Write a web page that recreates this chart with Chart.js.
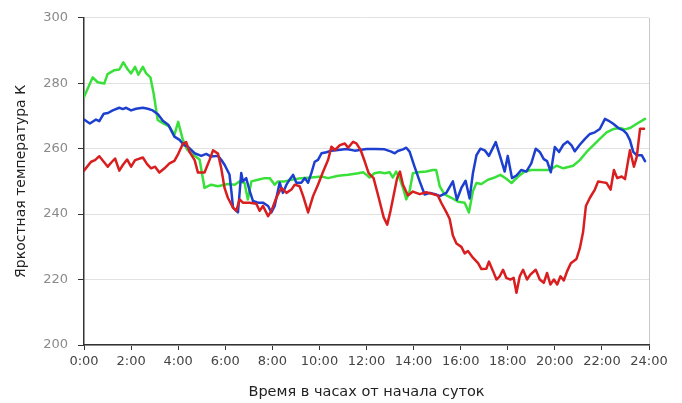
<!DOCTYPE html>
<html>
<head>
<meta charset="utf-8">
<script src="https://cdn.jsdelivr.net/npm/chart.js@4/dist/chart.umd.min.js"></script>
<style>
  body { margin: 0; background: #fff; }
  #wrap { width: 682px; height: 403px; }
</style>
</head>
<body>
<div id="wrap"><canvas id="tbChart" width="682" height="403"></canvas></div>
<script>
// время (часы от начала суток) и яркостная температура, K
const redHours = [0.0, 0.3, 0.47, 0.65, 0.84, 1.01, 1.15, 1.32, 1.5, 1.65, 1.83, 2.0, 2.17, 2.5, 2.68, 2.85, 3.02, 3.2, 3.42, 3.63, 3.84, 4.01, 4.2, 4.34, 4.48, 4.7, 4.84, 5.12, 5.33, 5.48, 5.69, 5.83, 5.97, 6.11, 6.33, 6.47, 6.61, 6.75, 7.04, 7.32, 7.46, 7.6, 7.82, 7.96, 8.17, 8.38, 8.6, 8.81, 8.95, 9.16, 9.31, 9.52, 9.73, 9.94, 10.16, 10.37, 10.51, 10.66, 10.87, 11.08, 11.22, 11.43, 11.57, 11.75, 11.93, 12.09, 12.3, 12.52, 12.73, 12.88, 13.02, 13.16, 13.3, 13.42, 13.55, 13.76, 13.97, 14.26, 14.54, 14.82, 15.03, 15.18, 15.39, 15.53, 15.67, 15.82, 16.03, 16.17, 16.31, 16.52, 16.74, 16.88, 17.09, 17.2, 17.38, 17.52, 17.66, 17.8, 17.94, 18.11, 18.25, 18.37, 18.51, 18.65, 18.82, 18.96, 19.19, 19.36, 19.53, 19.67, 19.81, 19.96, 20.1, 20.24, 20.38, 20.52, 20.68, 20.92, 21.06, 21.2, 21.32, 21.49, 21.7, 21.84, 22.06, 22.2, 22.37, 22.51, 22.65, 22.84, 22.98, 23.19, 23.36, 23.48, 23.62, 23.79];
const redTemp = [253.3, 256, 256.5, 257.7, 256, 254.5, 255.7, 257, 253.3, 255, 256.7, 254.5, 256.5, 257.3, 255.3, 254, 254.5, 252.7, 254, 255.5, 256.3, 258.5, 261.5, 262, 259, 256.5, 252.7, 252.7, 256.5, 259.5, 258.5, 254, 248, 245, 242, 241, 244.5, 243.5, 243.5, 243.2, 241, 242.5, 239.4, 241, 245, 248, 246.5, 247.5, 249, 248.5, 245.5, 240.5, 245.5, 249, 253, 256.6, 260.6, 259.6, 261.1, 261.6, 260.3, 262.1, 261.6, 259.6, 256, 252.5, 251, 245, 239, 236.8, 241, 246, 251, 253, 249, 245.7, 246.9, 246.1, 246.7, 246.1, 245.7, 243.4, 240.6, 238.6, 233.5, 231, 230, 228, 228.7, 226.7, 225, 223.2, 223.3, 225.5, 222.5, 220, 221, 223, 220.5, 220, 220.5, 216, 221, 223, 220, 221.5, 223, 220, 219, 222, 218.5, 220, 218.5, 221, 219.7, 222.5, 225, 226.3, 229.5, 234.5, 242.5, 245, 247.5, 250, 249.7, 249.5, 247.5, 253.5, 251, 251.5, 250.7, 259.5, 254.5, 257.5, 266.1, 266.1];

const blueHours = [0.0, 0.25, 0.51, 0.65, 0.84, 1.02, 1.22, 1.5, 1.65, 1.79, 2.0, 2.21, 2.5, 2.71, 2.92, 3.14, 3.35, 3.59, 3.84, 4.06, 4.24, 4.41, 4.7, 4.98, 5.19, 5.4, 5.69, 5.83, 5.97, 6.18, 6.26, 6.33, 6.47, 6.54, 6.68, 6.75, 6.89, 7.04, 7.18, 7.39, 7.6, 7.82, 7.96, 8.1, 8.31, 8.45, 8.6, 8.74, 8.88, 9.02, 9.23, 9.38, 9.52, 9.66, 9.8, 9.94, 10.09, 10.3, 10.51, 10.8, 11.15, 11.5, 12.0, 12.4, 12.77, 13.05, 13.2, 13.33, 13.55, 13.69, 13.83, 14.04, 14.26, 14.47, 14.7, 14.95, 15.11, 15.39, 15.67, 15.84, 16.03, 16.21, 16.38, 16.52, 16.67, 16.84, 17.02, 17.2, 17.49, 17.66, 17.87, 18.0, 18.18, 18.37, 18.58, 18.79, 19.0, 19.19, 19.36, 19.53, 19.67, 19.83, 20.0, 20.18, 20.36, 20.54, 20.71, 20.85, 21.06, 21.28, 21.49, 21.7, 21.91, 22.13, 22.27, 22.48, 22.7, 22.91, 23.05, 23.19, 23.33, 23.48, 23.69, 23.83];
const blueTemp = [268.9, 267.7, 268.9, 268.4, 270.7, 270.9, 271.7, 272.5, 272.1, 272.5, 271.7, 272.2, 272.5, 272.2, 271.7, 270.5, 268.5, 267.2, 263.7, 262.7, 261.1, 260.6, 258.6, 257.8, 258.4, 257.6, 257.8, 256.6, 255.1, 252.1, 247, 242, 241, 240.5, 252.6, 250, 251, 247, 244, 243.5, 243.5, 242.5, 240.5, 242.5, 249.6, 246.5, 249, 250.6, 252, 249.6, 249.6, 251, 249.6, 252.6, 256, 256.6, 258.6, 258.9, 259.4, 259.6, 259.9, 259.4, 259.9, 259.9, 259.8, 259.1, 258.6, 259.3, 259.8, 260.3, 259.1, 254.5, 250, 246, 246.5, 246, 245.5, 246.5, 250, 244.4, 248, 250.2, 244.8, 252.5, 258, 260, 259.5, 257.8, 262, 258, 253, 257.8, 251, 251.8, 253.5, 253, 255.5, 260, 259, 256.8, 256.2, 252.8, 260.5, 259, 261.2, 262.2, 261, 259.2, 261.2, 263, 264.5, 265, 266, 269.1, 268.6, 267.6, 266.3, 265.6, 264.6, 262.6, 259, 258, 258, 256.2];

const greenHours = [0.0, 0.37, 0.58, 0.86, 1.0, 1.29, 1.5, 1.67, 1.86, 2.0, 2.17, 2.31, 2.5, 2.64, 2.82, 2.96, 3.13, 3.35, 3.63, 3.84, 4.0, 4.2, 4.38, 4.62, 4.91, 5.12, 5.4, 5.69, 5.97, 6.11, 6.4, 6.61, 6.82, 6.96, 7.11, 7.39, 7.67, 7.89, 8.1, 8.24, 8.53, 8.81, 9.23, 9.66, 10.09, 10.37, 10.8, 11.22, 11.65, 11.86, 12.0, 12.13, 12.34, 12.55, 12.77, 12.98, 13.12, 13.26, 13.4, 13.55, 13.69, 13.83, 13.97, 14.18, 14.54, 14.82, 14.96, 15.11, 15.32, 15.6, 15.89, 16.17, 16.35, 16.52, 16.67, 16.88, 17.16, 17.45, 17.69, 17.94, 18.16, 18.44, 18.72, 19.0, 19.36, 19.79, 20.07, 20.36, 20.78, 21.06, 21.35, 21.63, 21.91, 22.2, 22.48, 22.77, 22.98, 23.19, 23.48, 23.83];
const greenTemp = [275.8, 281.8, 280.3, 279.9, 282.8, 284, 284.2, 286.4, 284.2, 283, 285, 282.6, 285, 283, 281.8, 276.8, 268.8, 267.8, 266.7, 264.2, 268.2, 262.7, 259.7, 258.2, 256.7, 248, 249, 248.5, 249, 249.2, 249, 250, 249.5, 244.5, 250, 250.5, 251, 251, 249, 250, 250, 250.5, 251, 251.2, 251.5, 251, 251.7, 252, 252.5, 252.8, 252, 251.2, 252.5, 252.8, 252.5, 252.8, 251.2, 253, 251, 248, 244.5, 247, 252.5, 252.8, 253, 253.5, 253.5, 248.5, 246, 245, 243.8, 243.5, 240.5, 247, 249.5, 249.2, 250.5, 251.2, 252, 250.8, 249.5, 251.5, 253, 253.5, 253.5, 253.5, 254.8, 254, 254.8, 256.5, 259, 261, 263, 265, 266, 266.3, 265.9, 266.3, 267.6, 269.1];

const yTicks = [200, 220, 240, 260, 280, 300];
const xTickHours = [0, 2, 4, 6, 8, 10, 12, 14, 16, 18, 20, 22, 24];

function toPoints(hours, temps) {
    return hours.map((h, i) => ({ x: h, y: temps[i] }));
}

const fontFamily = '"DejaVu Sans", Verdana, sans-serif';

new Chart(document.getElementById('tbChart'), {
    type: 'line',
    data: {
        datasets: [
            { label: 'red', data: toPoints(redHours, redTemp), borderColor: '#d81e1e' },
            { label: 'blue', data: toPoints(blueHours, blueTemp), borderColor: '#1c3fd0' },
            { label: 'green', data: toPoints(greenHours, greenTemp), borderColor: '#3ae03a' }
        ]
    },
    options: {
        responsive: false,
        animation: false,
        layout: { padding: { top: 15, right: 33, left: 0, bottom: 0 } },
        elements: {
            point: { radius: 0 },
            line: { borderWidth: 2.5, tension: 0, borderJoinStyle: 'round', borderCapStyle: 'round' }
        },
        plugins: {
            legend: { display: false },
            tooltip: { enabled: false }
        },
        scales: {
            x: {
                type: 'linear',
                min: 0,
                max: 24,
                afterBuildTicks: s => { s.ticks = xTickHours.map(v => ({ value: v })); },
                afterFit: s => { s.height = 58; },
                ticks: {
                    callback: v => v + ':00',
                    color: '#444',
                    font: { family: fontFamily, size: 13 },
                    padding: 4,
                    maxRotation: 0,
                    autoSkip: false
                },
                grid: {
                    color: c => (c.tick && c.tick.value === 24 ? '#c8c8c8' : 'rgba(0,0,0,0)'),
                    tickColor: '#333',
                    tickLength: 5
                },
                border: { color: '#333', width: 1.5 },
                title: {
                    display: true,
                    text: 'Время в часах от начала суток',
                    color: '#222',
                    font: { family: fontFamily, size: 14.5 },
                    padding: { top: 0, bottom: 2 }
                }
            },
            y: {
                min: 200,
                max: 300,
                afterBuildTicks: s => { s.ticks = yTicks.map(v => ({ value: v })); },
                afterFit: s => { s.width = 84; },
                ticks: {
                    color: '#8a8a8a',
                    font: { family: fontFamily, size: 13 },
                    padding: 10
                },
                grid: {
                    color: '#e2e2e2',
                    tickColor: '#333',
                    tickLength: 6
                },
                border: { color: '#333', width: 1.5 },
                title: {
                    display: true,
                    text: 'Яркостная температура К',
                    color: '#222',
                    font: { family: fontFamily, size: 14 },
                    padding: { top: 13, bottom: 0 }
                }
            }
        }
    }
});
</script>
</body>
</html>
